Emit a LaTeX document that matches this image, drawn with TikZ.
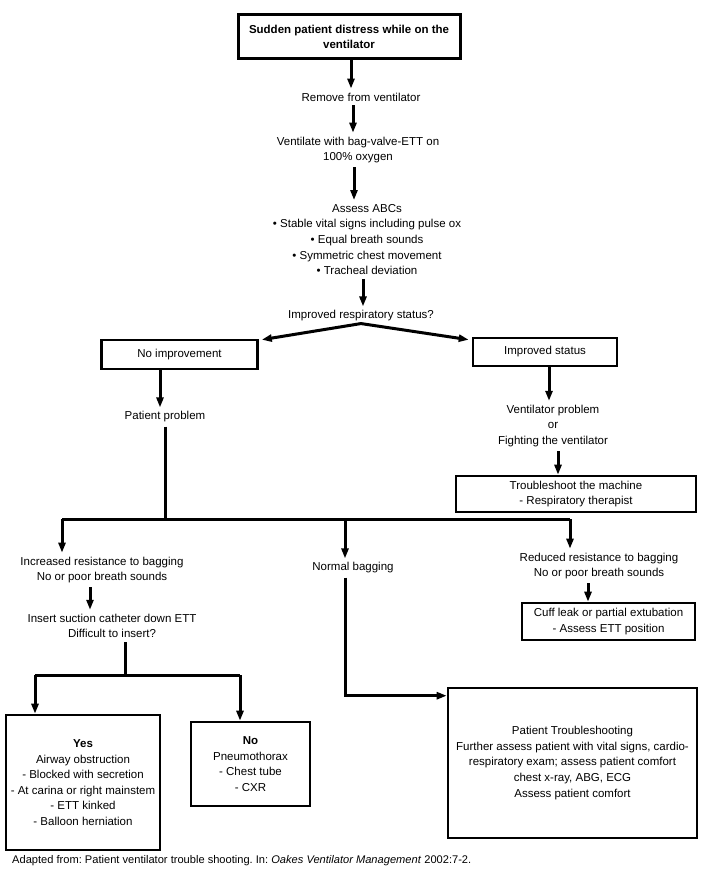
\documentclass[tikz,border=0pt]{standalone}
\usepackage{fontspec}
\setmainfont{Liberation Sans}
\usetikzlibrary{arrows.meta,calc}
\frenchspacing
\begin{document}
\begin{tikzpicture}[x=1pt,y=-1pt,
  every node/.style={font=\fontsize{11.5}{15.6}\selectfont, align=center},
  txt/.style={inner sep=4pt},
  bx/.style={draw, line width=2.6pt, inner sep=2pt},
  arr/.style={line width=3pt, -{Triangle[length=10pt,width=7pt]}},
  ln/.style={line width=3pt}]
\useasboundingbox (0,0) rectangle (707,875);
\fill[white] (0,0) rectangle (707,875);

% top column
\node[bx, line width=3pt, minimum width=222, minimum height=44, font=\fontsize{11.5}{15.6}\selectfont\bfseries] (title) at (349,37) {Sudden patient distress while on the\\ventilator};
\node[txt] (remove) at (361,97) {Remove from ventilator};
\node[txt] (vent) at (358,150) {Ventilate with bag-valve-ETT on\\100\% oxygen};
\node[txt] (assess) at (367,239.5) {Assess ABCs\\• Stable vital signs including pulse ox\\• Equal breath sounds\\• Symmetric chest movement\\• Tracheal deviation};
\node[txt] (imp) at (361,316) {Improved respiratory status?};

% first split
\node[bx, minimum width=156, minimum height=29] (noimp) at (179.5,354.5) {No improvement};
\node[bx, minimum width=144, minimum height=28] (impst) at (545,352) {Improved status};
\node[txt] (patprob) at (165,417) {Patient problem};
\node[txt] (ventprob) at (553,426) {Ventilator problem\\or\\Fighting the ventilator};
\node[bx, minimum width=240, minimum height=36] (trouble) at (576,494) {Troubleshoot the machine\\- Respiratory therapist};

% second split
\coordinate (j1) at (165,519);
\coordinate (jl) at (62,519);
\coordinate (jr) at (570,519);
\node[txt] (incr) at (102,570) {Increased resistance to bagging\\No or poor breath sounds};
\node[txt] (normal) at (353,568) {Normal bagging};
\node[txt] (reduced) at (599,566) {Reduced resistance to bagging\\No or poor breath sounds};
\node[txt] (insert) at (112,626) {Insert suction catheter down ETT\\Difficult to insert?};
\node[bx, minimum width=173, minimum height=37] (cuff) at (608.5,621.5) {Cuff leak or partial extubation\\- Assess ETT position};

% third split
\coordinate (j2) at (125,675);
\coordinate (j2l) at (35,675);
\coordinate (j2r) at (240,675);
\node[bx, minimum width=154, minimum height=135] (yes) at (83,782.5) {\textbf{Yes}\\Airway obstruction\\- Blocked with secretion\\- At carina or right mainstem\\- ETT kinked\\- Balloon herniation};
\node[bx, minimum width=119, minimum height=84] (no) at (250.5,764) {\textbf{No}\\Pneumothorax\\- Chest tube\\- CXR};
\node[bx, minimum width=249, minimum height=150] (pt) at (572.5,763) {Patient Troubleshooting\\Further assess patient with vital signs, cardio-\\respiratory exam; assess patient comfort\\chest x-ray, ABG, ECG\\Assess patient comfort};
\coordinate (ptin) at ($(pt.north west)+(0,9)$);

\node[anchor=west, inner sep=0pt, font=\fontsize{11.1}{14}\selectfont] (cap) at (12,861) {Adapted from: Patient ventilator trouble shooting. In: \textit{Oakes Ventilator Management} 2002:7-2.};

% connectors
\draw[arr] (title.south -| 351,0) -- (remove.north -| 351,0);
\draw[arr] (remove.south -| 353,0) -- (vent.north -| 353,0);
\draw[arr] (vent.south -| 354,0) -- (assess.north -| 354,0);
\draw[arr] (assess.south -| 363,0) -- (imp.north -| 363,0);
\draw[arr] ($(imp.south)+(0,-2)$) -- ($(noimp.north east)+(3,1)$);
\draw[arr] ($(imp.south)+(0,-2)$) -- ($(impst.north west)+(-3,3)$);
\draw[arr] (noimp.south -| 160,0) -- (patprob.north -| 160,0);
\draw[ln] (patprob.south -| j1) -- (j1);
\draw[ln] (jl) -- (jr);
\draw[arr] (jl) -- (incr.north -| jl);
\draw[arr] (345,519) -- (normal.north -| 345,0);
\draw[arr] (jr) -- (reduced.north -| jr);
\draw[arr] (impst.south -| 549,0) -- (ventprob.north -| 549,0);
\draw[arr] (ventprob.south -| 558,0) -- (trouble.north -| 558,0);
\draw[arr] (incr.south -| 90,0) -- (insert.north -| 90,0);
\draw[arr] (reduced.south -| 588,0) -- (cuff.north -| 588,0);
\draw[ln] (insert.south -| j2) -- (j2);
\draw[ln] (j2l) -- (j2r);
\draw[arr] (j2l) -- (yes.north -| j2l);
\draw[arr] (j2r) -- (no.north -| j2r);
\draw[arr] (normal.south -| 345,0) |- (ptin);
\end{tikzpicture}
\end{document}
